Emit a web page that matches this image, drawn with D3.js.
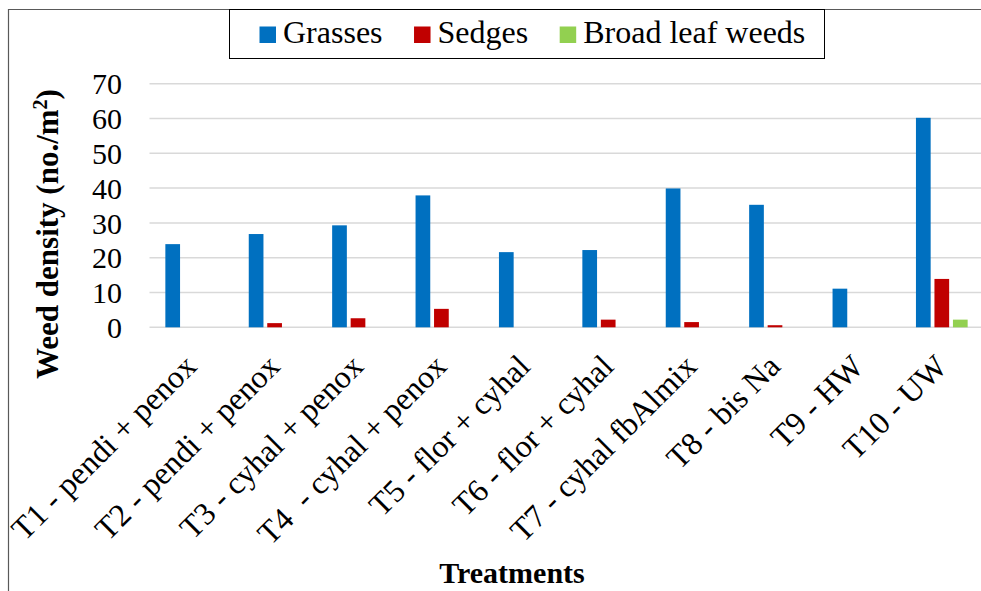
<!DOCTYPE html>
<html>
<head>
<meta charset="utf-8">
<script src="https://cdn.jsdelivr.net/npm/d3@7"></script>
<style>
  html, body { margin: 0; padding: 0; background: #fff; }
  svg { display: block; }
  svg text { font-family: 'Liberation Serif', 'Times New Roman', Times, 'DejaVu Serif', serif !important; }
</style>
</head>
<body>
<svg id="chart" width="981" height="591"></svg>
<script>
// Weed density by treatment (no./m²)
const treatments = [
  "T1 - pendi + penox", "T2 - pendi + penox", "T3 - cyhal + penox",
  "T4  - cyhal + penox", "T5 - flor + cyhal", "T6 - flor + cyhal",
  "T7 - cyhal fbAlmix", "T8 - bis Na", "T9 - HW", "T10 - UW"
];
const seriesNames = ["Grasses", "Sedges", "Broad leaf weeds"];
const grasses   = [23.9, 26.8, 29.3, 37.9, 21.6, 22.2, 39.9, 35.2, 11.1, 60.2];
const sedges    = [0, 1.2, 2.6, 5.3, 0, 2.2, 1.5, 0.6, 0, 13.9];
const broadLeaf = [0, 0, 0, 0, 0, 0, 0, 0, 0, 2.2];
const yTicks = [0, 10, 20, 30, 40, 50, 60, 70];
const colors = ["#0070C0", "#C00000", "#92D050"];

const seriesValues = [grasses, sedges, broadLeaf];
const rows = treatments.map((t, i) => ({
  name: t,
  values: seriesNames.map((s, j) => ({ series: s, value: seriesValues[j][i] }))
}));

const FONT = "'Liberation Serif', 'Times New Roman', Times, 'DejaVu Serif', serif";
const svg = d3.select("#chart").style("font-family", FONT);

// plot geometry
const plotLeft = 149.5, plotRight = 983.5, plotTop = 83.7, plotBottom = 327.3;

const x0 = d3.scaleBand().domain(treatments).range([plotLeft, plotRight]).padding(0);
const groupSpan = 51.7;
const x1 = d3.scaleBand().domain(seriesNames)
  .range([-groupSpan / 2, groupSpan / 2]).paddingInner(0.205).paddingOuter(0);
const y = d3.scaleLinear().domain([0, 70]).range([plotBottom, plotTop]);
const color = d3.scaleOrdinal().domain(seriesNames).range(colors);

// gridlines
svg.append("g")
  .selectAll("line").data(yTicks).join("line")
  .attr("x1", plotLeft).attr("x2", plotRight)
  .attr("y1", d => y(d)).attr("y2", d => y(d))
  .attr("stroke", "#d9d9d9").attr("stroke-width", 1.5);

// y axis labels
const yAxis = d3.axisLeft(y).tickValues(yTicks).tickSize(0).tickPadding(0);
const gy = svg.append("g").attr("transform", "translate(122,0)").call(yAxis)
  .attr("font-family", null).attr("font-size", null);
gy.select(".domain").remove();
gy.selectAll("text")
  .style("font-family", FONT)
  .attr("font-size", 30).attr("fill", "#000").attr("dy", "0.34em");

// bars
svg.append("g")
  .selectAll("g").data(rows).join("g")
  .attr("transform", d => `translate(${x0(d.name) + x0.bandwidth() / 2},0)`)
  .selectAll("rect").data(d => d.values).join("rect")
  .attr("x", d => x1(d.series))
  .attr("width", x1.bandwidth())
  .attr("y", d => y(d.value))
  .attr("height", d => y(0) - y(d.value))
  .attr("fill", d => color(d.series));

// x axis labels, rotated
const xAxis = d3.axisBottom(x0).tickSize(0).tickPadding(0);
const gx = svg.append("g").attr("transform", `translate(0,${plotBottom})`).call(xAxis)
  .attr("font-family", null).attr("font-size", null);
gx.select(".domain").remove();
gx.selectAll("text")
  .style("font-family", FONT)
  .attr("font-size", 32).attr("fill", "#000")
  .attr("text-anchor", "end")
  .attr("dy", null).attr("y", 0)
  .attr("transform", "translate(7,41) rotate(-45)")
  .style("white-space", "pre");

// y axis title
const yTitle = svg.append("text")
  .attr("transform", "translate(58,234) rotate(-90)")
  .attr("text-anchor", "middle")
  .style("font-family", FONT)
  .attr("font-size", 31).attr("font-weight", "bold");
yTitle.append("tspan").text("Weed density (no./m");
yTitle.append("tspan").attr("font-size", 20).attr("dy", -11).text("2");
yTitle.append("tspan").attr("dy", 11).text(")");

// x axis title
svg.append("text")
  .attr("x", 512).attr("y", 583)
  .attr("text-anchor", "middle")
  .style("font-family", FONT)
  .attr("font-size", 30).attr("font-weight", "bold")
  .text("Treatments");

// chart border
svg.append("path")
  .attr("d", "M8.5,591 V9.5 H981")
  .attr("fill", "none").attr("stroke", "#595959").attr("stroke-width", 1.2);

// legend
const legend = svg.append("g");
legend.append("rect")
  .attr("x", 229.5).attr("y", 9.5).attr("width", 595).attr("height", 49)
  .attr("fill", "#fff").attr("stroke", "#000").attr("stroke-width", 1);
let lx = 259.5;
seriesNames.forEach(s => {
  legend.append("rect")
    .attr("x", lx).attr("y", 26.5).attr("width", 16.5).attr("height", 16.5)
    .attr("fill", color(s));
  const t = legend.append("text")
    .attr("x", lx + 23.5).attr("y", 43)
    .style("font-family", FONT)
    .attr("font-size", 32).attr("fill", "#000")
    .text(s);
  lx += 23.5 + t.node().getComputedTextLength() + 31.5;
});
</script>
</body>
</html>
